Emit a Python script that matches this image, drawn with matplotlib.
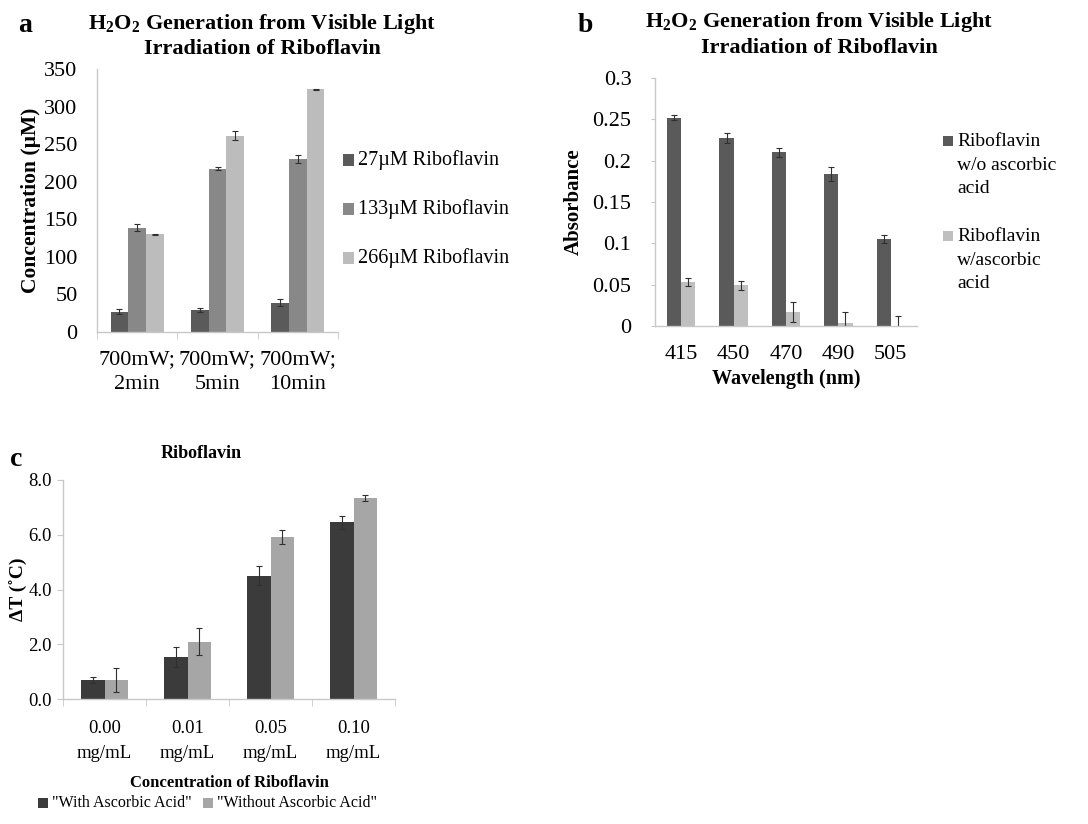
import numpy as np
import matplotlib
matplotlib.use("Agg")
import matplotlib.pyplot as plt
from matplotlib.patches import Rectangle

plt.rcParams['font.family'] = ['Liberation Serif', 'DejaVu Serif']
plt.rcParams['mathtext.fontset'] = 'custom'
plt.rcParams['mathtext.rm'] = 'Liberation Serif'
plt.rcParams['mathtext.bf'] = 'Liberation Serif:bold'

# ---------------- data ----------------
a_categories = ["700mW;\n2min", "700mW;\n5min", "700mW;\n10min"]
a_series = ["27\u00b5M Riboflavin", "133\u00b5M Riboflavin", "266\u00b5M Riboflavin"]
a_27 = [27, 29, 39]
a_27_err = [3, 3, 5]
a_133 = [139, 217, 230]
a_133_err = [5, 2, 5]
a_266 = [130, 261, 323]
a_266_err = [1, 6, 1]
a_yticks = [0, 50, 100, 150, 200, 250, 300, 350]

b_categories = ["415", "450", "470", "490", "505"]
b_series = ["Riboflavin\nw/o ascorbic\nacid", "Riboflavin\nw/ascorbic\nacid"]
b_without = [0.252, 0.227, 0.210, 0.184, 0.105]
b_without_err = [0.003, 0.006, 0.005, 0.008, 0.005]
b_with = [0.053, 0.049, 0.017, 0.004, 0.0005]
b_with_err = [0.005, 0.005, 0.012, 0.013, 0.011]
b_yticks = [0, 0.05, 0.1, 0.15, 0.2, 0.25, 0.3]
b_yticklabels = ["0", "0.05", "0.1", "0.15", "0.2", "0.25", "0.3"]

c_categories = ["0.00\nmg/mL", "0.01\nmg/mL", "0.05\nmg/mL", "0.10\nmg/mL"]
c_series = ['"With Ascorbic Acid"', '"Without Ascorbic Acid"']
c_with = [0.70, 1.53, 4.50, 6.45]
c_with_err = [0.10, 0.37, 0.35, 0.25]
c_without = [0.70, 2.10, 5.92, 7.35]
c_without_err = [0.45, 0.50, 0.27, 0.12]
c_yticks = [0.0, 2.0, 4.0, 6.0, 8.0]

# ---------------- figure ----------------
W, H = 1088, 824
fig = plt.figure(figsize=(W / 100, H / 100), dpi=100)

def ax_at(l, r, t, b):
    return fig.add_axes([l / W, 1 - b / H, (r - l) / W, (b - t) / H])

spine_col = "#c8c8c8"
err_kw = dict(ecolor="#303030", elinewidth=0.8, capsize=2, capthick=0.8)

def style(ax, ncat, xtick_minor=True, tick_fs=15, ytick_fs=None, ypad=12, xpad=8):
    for s in ["top", "right"]:
        ax.spines[s].set_visible(False)
    for s in ["left", "bottom"]:
        ax.spines[s].set_color(spine_col)
        ax.spines[s].set_linewidth(1.0)
    ax.set_xlim(-0.5, ncat - 0.5)
    ax.tick_params(axis="x", which="major", length=0, labelsize=tick_fs, pad=xpad)
    ax.tick_params(axis="y", which="major", length=4, color=spine_col,
                   labelsize=ytick_fs or tick_fs, pad=ypad)
    if xtick_minor:
        ax.set_xticks(np.arange(ncat + 1) - 0.5, minor=True)
        ax.tick_params(axis="x", which="minor", length=5, color=spine_col)

def legend_box(x, y, color, label, fs=14, sq=10, dy=0, ls=1.05):
    fig.patches.append(Rectangle((x / W, 1 - (y + sq / 2) / H), sq / W, sq / H,
                                 transform=fig.transFigure, facecolor=color, edgecolor="none"))
    fig.text((x + sq + 4) / W, 1 - (y + dy) / H, label, fontsize=fs, va="center", ha="left",
             linespacing=ls)

# ---------------- panel a ----------------
axa = ax_at(97, 338, 69, 332)
xa = np.arange(len(a_categories))
wa = 0.22
ca = ["#5a5a5a", "#888888", "#bcbcbc"]
axa.bar(xa - wa, a_27, wa, yerr=a_27_err, color=ca[0], error_kw=err_kw)
axa.bar(xa, a_133, wa, yerr=a_133_err, color=ca[1], error_kw=err_kw)
axa.bar(xa + wa, a_266, wa, yerr=a_266_err, color=ca[2], error_kw=err_kw)
axa.set_ylim(0, 350)
axa.set_yticks(a_yticks)
axa.set_xticks(xa)
axa.set_xticklabels(a_categories, linespacing=1.45)
style(axa, len(a_categories), tick_fs=16, ypad=14, xpad=13)
axa.tick_params(axis="y", length=0)
axa.set_ylabel("Concentration (\u00b5M)", fontsize=15.5, fontweight="bold", labelpad=2)
fig.text(262 / W, 1 - 24 / H, r"H$_\mathbf{2}$O$_\mathbf{2}$ Generation from Visible Light",
         fontsize=16, fontweight="bold", ha="center", va="center")
fig.text(262 / W, 1 - 49 / H, "Irradiation of Riboflavin",
         fontsize=16, fontweight="bold", ha="center", va="center")
fig.text(18 / W, 1 - 26 / H, "a", fontsize=20, fontweight="bold", ha="left", va="center")
for i, (lab, col) in enumerate(zip(a_series, ca)):
    legend_box(343, 160 + 49 * i, col, lab, fs=14.5, sq=11)

# ---------------- panel b ----------------
axb = ax_at(655, 917, 78, 326)
xb = np.arange(len(b_categories))
wb = 0.27
cb = ["#5a5a5a", "#bfbfbf"]
axb.bar(xb - wb / 2, b_without, wb, yerr=b_without_err, color=cb[0], error_kw=err_kw)
axb.bar(xb + wb / 2, b_with, wb, yerr=b_with_err, color=cb[1], error_kw=err_kw)
axb.set_ylim(0, 0.3)
axb.set_yticks(b_yticks)
axb.set_yticklabels(b_yticklabels)
axb.set_xticks(xb)
axb.set_xticklabels(b_categories)
style(axb, len(b_categories), xtick_minor=False, tick_fs=16, ypad=14, xpad=14)
axb.tick_params(axis="y", length=3)
axb.set_ylabel("Absorbance", fontsize=15, fontweight="bold", labelpad=6)
axb.set_xlabel("Wavelength (nm)", fontsize=14.5, fontweight="bold", labelpad=3)
fig.text(819 / W, 1 - 22 / H, r"H$_\mathbf{2}$O$_\mathbf{2}$ Generation from Visible Light",
         fontsize=16, fontweight="bold", ha="center", va="center")
fig.text(819 / W, 1 - 48 / H, "Irradiation of Riboflavin",
         fontsize=16, fontweight="bold", ha="center", va="center")
fig.text(578 / W, 1 - 26 / H, "b", fontsize=20, fontweight="bold", ha="left", va="center")
legend_box(943, 141, cb[0], b_series[0], fs=14, sq=10, dy=24, ls=1.5)
legend_box(943, 236, cb[1], b_series[1], fs=14, sq=10, dy=24, ls=1.5)

# ---------------- panel c ----------------
axc = ax_at(63, 395, 480, 699)
xc = np.arange(len(c_categories))
wc = 0.285
cc = ["#3b3b3b", "#a6a6a6"]
axc.bar(xc - wc / 2, c_with, wc, yerr=c_with_err, color=cc[0], error_kw=err_kw)
axc.bar(xc + wc / 2, c_without, wc, yerr=c_without_err, color=cc[1], error_kw=err_kw)
axc.set_ylim(0, 8)
axc.set_yticks(c_yticks)
axc.set_yticklabels([f"{v:.1f}" for v in c_yticks])
axc.set_xticks(xc)
axc.set_xticklabels(c_categories, linespacing=1.65)
style(axc, len(c_categories), tick_fs=13.5, ypad=4, xpad=15)
axc.tick_params(axis="y", length=4)
axc.set_ylabel("\u0394T (\u02daC)", fontsize=14, fontweight="bold", labelpad=0)
axc.set_xlabel("Concentration of Riboflavin", fontsize=12, fontweight="bold", labelpad=9)
fig.text(201 / W, 1 - 453 / H, "Riboflavin", fontsize=13, fontweight="bold", ha="center", va="center")
fig.text(10 / W, 1 - 459 / H, "c", fontsize=20, fontweight="bold", ha="left", va="center")
legend_box(38, 803, cc[0], c_series[0], fs=11.5, sq=10)
legend_box(203, 803, cc[1], c_series[1], fs=11.5, sq=10)

fig.savefig("out.png", dpi=100)
